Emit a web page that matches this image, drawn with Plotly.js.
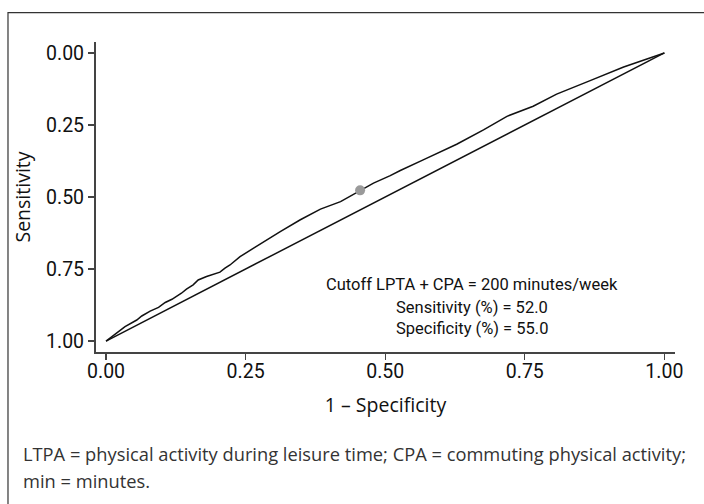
<!DOCTYPE html>
<html>
<head>
<meta charset="utf-8">
<script src="https://cdn.plot.ly/plotly-3.0.1.min.js"></script>
<style>
html,body{margin:0;padding:0;background:#fff;}
#chart{width:704px;height:504px;}
</style>
</head>
<body>
<div id="chart"></div>
<script>
// ROC curve (x = 1 - specificity, y as plotted on reversed axis)
const rocX = [0, 0.034, 0.055, 0.064, 0.079, 0.094, 0.106, 0.118, 0.135, 0.144, 0.156, 0.165, 0.180, 0.204, 0.213, 0.222, 0.240, 0.276, 0.312, 0.348, 0.384, 0.420, 0.437, 0.455, 0.479, 0.509, 0.527, 0.568, 0.628, 0.676, 0.688, 0.706, 0.718, 0.765, 0.807, 0.867, 0.927, 1];
const rocY = [1, 0.950, 0.927, 0.913, 0.896, 0.883, 0.866, 0.855, 0.834, 0.820, 0.805, 0.788, 0.776, 0.761, 0.747, 0.736, 0.707, 0.663, 0.620, 0.579, 0.542, 0.516, 0.498, 0.477, 0.452, 0.426, 0.408, 0.371, 0.317, 0.267, 0.253, 0.234, 0.220, 0.185, 0.143, 0.096, 0.049, 0];
const refX = [0, 1];
const refY = [1, 0];
const cutX = [0.455];
const cutY = [0.477];
const tickVals = [0, 0.25, 0.5, 0.75, 1];
const tickText = ["0.00", "0.25", "0.50", "0.75", "1.00"];
const noteLines = ["Cutoff LPTA + CPA = 200 minutes/week", "Sensitivity (%) = 52.0", "Specificity (%) = 55.0"];
const captionLines = ["LTPA = physical activity during leisure time; CPA = commuting physical activity;", "min = minutes."];

const condFont = "Roboto, 'Liberation Sans', sans-serif";
const bodyFont = "'Open Sans', 'Noto Sans', sans-serif";

const traces = [
  {x: refX, y: refY, mode: 'lines', line: {color: '#111', width: 1.5}, hoverinfo: 'skip', showlegend: false},
  {x: rocX, y: rocY, mode: 'lines', line: {color: '#111', width: 1.5}, showlegend: false},
  {x: cutX, y: cutY, mode: 'markers', marker: {color: '#9a9a9a', size: 10}, showlegend: false}
];

const noteYs = [0.805, 0.884, 0.955];
const annotations = noteLines.map((t, i) => ({
  x: 0.656, y: noteYs[i], xref: 'x', yref: 'y', text: t, showarrow: false,
  xanchor: 'center', yanchor: 'middle', font: {family: condFont, size: 16.5, color: '#111'}
}));
const capYs = [-0.326, -0.413];
captionLines.forEach((t, i) => annotations.push({
  x: -0.1295, y: capYs[i], xref: 'paper', yref: 'paper', text: t, showarrow: false,
  xanchor: 'left', yanchor: 'middle', font: {family: bodyFont, size: 18.3, color: '#333'}
}));

const layout = {
  width: 704, height: 504,
  margin: {l: 96, r: 29, t: 42, b: 152},
  paper_bgcolor: '#fff', plot_bgcolor: '#fff',
  showlegend: false,
  xaxis: {
    range: [-0.018, 1.019], tickvals: tickVals, ticktext: tickText,
    ticks: 'outside', ticklen: 6, tickcolor: '#444', tickwidth: 1.2,
    showline: true, linecolor: '#444', linewidth: 2,
    showgrid: false, zeroline: false, ticklabelstandoff: -5,
    tickfont: {family: condFont, size: 19.5, color: '#111'},
    title: {text: '1 – Specificity', font: {family: bodyFont, size: 19.5, color: '#111'}, standoff: 16}
  },
  yaxis: {
    range: [1.038, -0.038], tickvals: tickVals, ticktext: tickText,
    ticks: 'outside', ticklen: 6, tickcolor: '#444', tickwidth: 1.2,
    showline: true, linecolor: '#444', linewidth: 2,
    showgrid: false, zeroline: false,
    tickfont: {family: condFont, size: 19.5, color: '#111'},
    title: {text: 'Sensitivity', font: {family: bodyFont, size: 19.5, color: '#111'}, standoff: 10}
  },
  annotations: annotations,
  shapes: [{
    type: 'rect', xref: 'paper', yref: 'paper',
    x0: -0.152, x1: 1.07, y0: -0.52, y1: 1.095,
    line: {color: '#333', width: 1.2}, fillcolor: 'rgba(0,0,0,0)', layer: 'below'
  }]
};

Plotly.newPlot('chart', traces, layout, {staticPlot: true, displayModeBar: false});
</script>
</body>
</html>
